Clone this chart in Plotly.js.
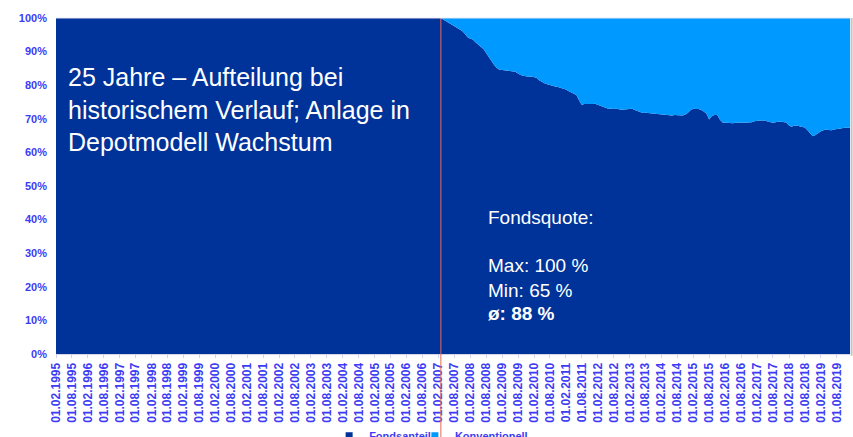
<!DOCTYPE html>
<html>
<head>
<meta charset="utf-8">
<script src="https://cdn.plot.ly/plotly-3.0.1.min.js"></script>
<style>html,body{margin:0;padding:0;background:#fff;}#chart{width:853px;height:437px;}</style>
</head>
<body>
<div id="chart"></div>
<script>
// Monthly Fondsanteil (%) from 01.02.1995
const fondsanteil = [
100,100,100,100,100,100,100,100,100,100,100,100,100,100,100,100,100,100,100,100,
100,100,100,100,100,100,100,100,100,100,100,100,100,100,100,100,100,100,100,100,
100,100,100,100,100,100,100,100,100,100,100,100,100,100,100,100,100,100,100,100,
100,100,100,100,100,100,100,100,100,100,100,100,100,100,100,100,100,100,100,100,
100,100,100,100,100,100,100,100,100,100,100,100,100,100,100,100,100,100,100,100,
100,100,100,100,100,100,100,100,100,100,100,100,100,100,100,100,100,100,100,100,
100,100,100,100,100,100,100,100,100,100,100,100,100,100,100,100,100,100,100,100,
100,100,100,100,100,
// from 03.2007
100,99.5,99.0,98.4,98.0,97.5,97.1,96.6,96.1,95.3,
94.3,93.8,93.6,92.8,92.1,91.4,90.8,89.6,88.4,87.0,
86.0,85.1,84.6,84.5,84.4,84.5,84.3,84.1,84.0,83.5,
83.0,82.8,82.6,82.5,82.6,82.5,82.2,81.5,81.0,80.6,
80.3,80.0,79.8,79.6,79.5,79.3,79.1,78.7,78.3,77.9,
77.5,77.1,75.5,74.2,74.4,74.4,74.2,74.4,74.5,74.2,
73.8,73.5,73.3,73.0,73.1,72.9,73.0,72.8,72.7,72.8,
72.9,73.0,73.0,72.6,72.3,72.0,71.7,71.8,71.7,71.7,
71.6,71.5,71.4,71.2,71.2,71.1,71.0,71.0,71.1,71.0,
71.0,71.0,71.3,71.8,72.6,73.0,72.9,72.9,72.6,72.2,
71.5,69.8,70.8,71.1,71.1,69.8,68.9,68.8,68.7,68.6,
68.7,68.8,68.9,68.9,68.8,68.8,68.8,69.0,69.3,69.5,
69.5,69.5,69.5,69.2,68.9,68.8,69.0,69.2,69.1,69.0,
68.9,68.0,67.6,67.9,68.0,67.8,67.6,67.4,66.6,65.6,
64.8,65.2,65.8,66.3,66.6,66.8,66.7,66.6,66.8,67.0,
67.1,67.2,67.3,67.3,67.3
];
const konventionell = fondsanteil.map(v => +(100 - v).toFixed(1));
const startYear = 1995, startMonth = 2;
const seriesNames = ['Fondsanteil', 'Konventionell'];
const seriesColors = ['#003399', '#0099ff'];
const tickText = [
'01.02.1995','01.08.1995','01.02.1996','01.08.1996','01.02.1997','01.08.1997','01.02.1998','01.08.1998',
'01.02.1999','01.08.1999','01.02.2000','01.08.2000','01.02.2001','01.08.2001','01.02.2002','01.08.2002',
'01.02.2003','01.08.2003','01.02.2004','01.08.2004','01.02.2005','01.08.2005','01.02.2006','01.08.2006',
'01.02.2007','01.08.2007','01.02.2008','01.08.2008','01.02.2009','01.08.2009','01.02.2010','01.08.2010',
'01.02.2011','01.08.2011','01.02.2012','01.08.2012','01.02.2013','01.08.2013','01.02.2014','01.08.2014',
'01.02.2015','01.08.2015','01.02.2016','01.08.2016','01.02.2017','01.08.2017','01.02.2018','01.08.2018',
'01.02.2019','01.08.2019'
];
const markerDate = '2007-03-01';
const titleLines = ['25 Jahre \u2013 Aufteilung bei', 'historischem Verlauf; Anlage in', 'Depotmodell Wachstum'];
const statLines = ['Fondsquote:', 'Max: 100 %', 'Min: 65 %', '\u00f8: 88 %'];

// Build monthly dates
const dates = fondsanteil.map((_, i) => {
  const m0 = startMonth - 1 + i;
  const y = startYear + Math.floor(m0 / 12);
  const m = (m0 % 12) + 1;
  return y + '-' + String(m).padStart(2, '0') + '-01';
});
const tickVals = tickText.map(s => { const p = s.split('.'); return p[2] + '-' + p[1] + '-' + p[0]; });

const FONT = 'Arial, "Liberation Sans", sans-serif';
const LBL = '#3c3cf5';

const traces = [
  { x: dates, y: fondsanteil, name: seriesNames[0], type: 'scatter', mode: 'lines', showlegend: false,
    stackgroup: 'one', line: { width: 0, color: seriesColors[0] }, fillcolor: seriesColors[0], hoverinfo: 'x+y' },
  { x: dates, y: konventionell, name: seriesNames[1], type: 'scatter', mode: 'lines', showlegend: false,
    stackgroup: 'one', line: { width: 0, color: seriesColors[1] }, fillcolor: seriesColors[1], hoverinfo: 'x+y' },
  // legend entries (small square keys)
  { x: [dates[0]], y: [null], name: seriesNames[0], type: 'scatter', mode: 'markers', legend: 'legend',
    marker: { symbol: 'square', size: 7, color: seriesColors[0] }, hoverinfo: 'skip' },
  { x: [dates[0]], y: [null], name: seriesNames[1], type: 'scatter', mode: 'markers', legend: 'legend2',
    marker: { symbol: 'square', size: 7, color: seriesColors[1] }, hoverinfo: 'skip' }
];

const annotations = [
  { text: titleLines.join('<br>'), xref: 'paper', yref: 'paper', x: 0.0126, y: 0.729,
    xanchor: 'left', yanchor: 'middle', align: 'left', showarrow: false,
    font: { family: FONT, size: 25, color: '#ffffff' } },
  { text: statLines[0], xref: 'paper', yref: 'paper', x: 0.541, y: 0.405, xanchor: 'left', yanchor: 'middle',
    showarrow: false, font: { family: FONT, size: 19, color: '#ffffff' } },
  { text: statLines[1], xref: 'paper', yref: 'paper', x: 0.541, y: 0.262, xanchor: 'left', yanchor: 'middle',
    showarrow: false, font: { family: FONT, size: 19, color: '#ffffff' } },
  { text: statLines[2], xref: 'paper', yref: 'paper', x: 0.541, y: 0.190, xanchor: 'left', yanchor: 'middle',
    showarrow: false, font: { family: FONT, size: 19, color: '#ffffff' } },
  { text: '<b>' + statLines[3] + '</b>', xref: 'paper', yref: 'paper', x: 0.541, y: 0.122, xanchor: 'left', yanchor: 'middle',
    showarrow: false, font: { family: FONT, size: 19, color: '#ffffff' } }
];

const legendBase = { orientation: 'h', y: -0.2, yanchor: 'top', xanchor: 'left',
  font: { family: FONT, size: 11, color: LBL, weight: 'bold' }, bgcolor: 'rgba(0,0,0,0)', itemwidth: 30 };

const layout = {
  width: 853, height: 437,
  margin: { l: 56, r: 3, t: 18, b: 83, autoexpand: false },
  paper_bgcolor: '#ffffff', plot_bgcolor: '#ffffff',
  showlegend: true,
  legend: Object.assign({}, legendBase, { x: 0.344 }),
  legend2: Object.assign({}, legendBase, { x: 0.452 }),
  xaxis: {
    type: 'date', range: [dates[0], dates[dates.length - 1]],
    tickmode: 'array', tickvals: tickVals, ticktext: tickText, tickangle: -90,
    tickfont: { family: FONT, size: 12, color: LBL, weight: 'bold' },
    showgrid: false, zeroline: false, showline: true, linecolor: '#d4d4ea', linewidth: 1,
    ticks: 'outside', ticklen: 3, tickcolor: '#cfcff0', fixedrange: true
  },
  yaxis: {
    range: [0, 100], dtick: 10, ticksuffix: '%',
    tickfont: { family: FONT, size: 11, color: LBL, weight: 'bold' },
    showgrid: false, zeroline: false, showline: false, ticks: '', ticklabelstandoff: 8, fixedrange: true
  },
  shapes: [
    { type: 'line', xref: 'x', yref: 'paper', x0: markerDate, x1: markerDate, y0: -0.26, y1: 1,
      line: { color: '#e86a5a', width: 1 }, layer: 'above' },
    { type: 'line', xref: 'paper', yref: 'paper', x0: 1.002, x1: 1.002, y0: -0.005, y1: 1,
      line: { color: '#c4c4c4', width: 2 }, layer: 'above' },
    { type: 'line', xref: 'paper', yref: 'paper', x0: 0, x1: 1, y0: 1, y1: 1,
      line: { color: '#e6e6f6', width: 1 }, layer: 'above' }
  ],
  annotations: annotations
};

Plotly.newPlot('chart', traces, layout, { displayModeBar: false, staticPlot: true });
</script>
</body>
</html>
